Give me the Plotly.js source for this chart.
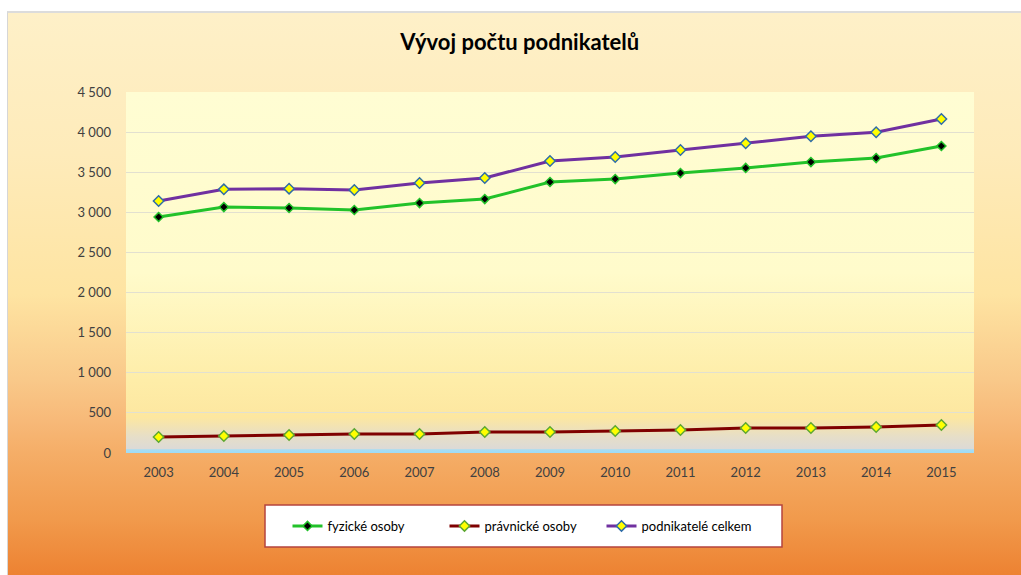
<!DOCTYPE html>
<html>
<head>
<meta charset="utf-8">
<script src="https://cdn.plot.ly/plotly-3.0.1.min.js"></script>
<style>
  html, body { margin:0; padding:0; background:#ffffff; }
  #frame { position:absolute; left:7px; top:11px; width:1020px; height:562px;
    border-left:1px solid #d6d6d6; border-top:2px solid #dcdcdc; border-bottom:2px solid #d0d0d0;
    background: linear-gradient(to bottom, #FEF0C8 0%, #FEEBBA 25%, #FEE4A2 50%, #F9C98A 65%, #F7B877 73%, #F5AE68 78%, #F19A4C 90%, #ED8232 100%); }
  #chart { position:absolute; left:0; top:0; width:1021px; height:575px; }
</style>
</head>
<body>
<div id="frame"></div>
<div id="chart"></div>
<script>
const years = ['2003','2004','2005','2006','2007','2008','2009','2010','2011','2012','2013','2014','2015'];
const fyzickeOsoby = [2942, 3066, 3054, 3029, 3116, 3166, 3378, 3415, 3490, 3553, 3627, 3677, 3827];
const pravnickeOsoby = [200, 212, 224, 237, 237, 262, 262, 274, 287, 312, 312, 324, 349];
const podnikateleCelkem = [3141, 3287, 3295, 3278, 3366, 3428, 3640, 3690, 3777, 3860, 3948, 3998, 4163];
const yTicks = [0, 500, 1000, 1500, 2000, 2500, 3000, 3500, 4000, 4500];

const plotGrad = '<svg xmlns="http://www.w3.org/2000/svg" width="100" height="361" preserveAspectRatio="none">' +
  '<defs><linearGradient id="g" x1="0" y1="0" x2="0" y2="1">' +
  '<stop offset="0" stop-color="#FFFDD3"/>' +
  '<stop offset="0.5" stop-color="#FFFBCB"/>' +
  '<stop offset="0.8" stop-color="#FEEDA8"/>' +
  '<stop offset="0.9" stop-color="#FDE7A0"/>' +
  '<stop offset="0.955" stop-color="#E6DEC8"/>' +
  '<stop offset="0.988" stop-color="#DCDAD6"/>' +
  '<stop offset="0.991" stop-color="#A8DDF3"/>' +
  '<stop offset="1" stop-color="#9EDCF6"/>' +
  '</linearGradient></defs><rect width="100" height="361" fill="url(#g)"/></svg>';

const font = 'Lato, "Open Sans", "Liberation Sans", sans-serif';

const traces = [
  { x: years, y: fyzickeOsoby, name: 'fyzické osoby', type: 'scatter', mode: 'lines+markers',
    line: { color: '#22C22A', width: 3 },
    marker: { symbol: 'diamond', size: 7, color: '#000000', line: { color: '#22C22A', width: 1.5 } } },
  { x: years, y: pravnickeOsoby, name: 'právnické osoby', type: 'scatter', mode: 'lines+markers',
    line: { color: '#7F0000', width: 3 },
    marker: { symbol: 'diamond', size: 8, color: '#FFFF00', line: { color: '#5EA832', width: 1.5 } } },
  { x: years, y: podnikateleCelkem, name: 'podnikatelé celkem', type: 'scatter', mode: 'lines+markers',
    line: { color: '#7030A0', width: 3 },
    marker: { symbol: 'diamond', size: 8, color: '#FFFF00', line: { color: '#2F6DA8', width: 1.5 } } }
];

const layout = {
  width: 1021, height: 575,
  margin: { l: 126, r: 47, t: 92, b: 122, pad: 0, autoexpand: false },
  paper_bgcolor: 'rgba(0,0,0,0)',
  plot_bgcolor: 'rgba(0,0,0,0)',
  separators: ', ',
  font: { family: font, size: 13, color: '#404040' },
  title: { text: '<b>Vývoj počtu podnikatelů</b>', font: { family: font, size: 22, color: '#000000' },
    x: 0.509, xref: 'container', xanchor: 'center', y: 1 - 42/575, yref: 'container', yanchor: 'middle' },
  xaxis: { type: 'category', range: [-0.5, 12.5], showgrid: false, zeroline: false, showline: false, ticks: '',
    tickangle: 0, automargin: false,
    ticklabelstandoff: 10, tickfont: { family: font, size: 13, color: '#404040' }, fixedrange: true },
  yaxis: { range: [0, 4500], tickvals: yTicks, tickformat: ',d', showgrid: true, gridcolor: '#E2E0D0', gridwidth: 1,
    zeroline: false, showline: false, ticks: '', ticklabelstandoff: 14, automargin: false,
    tickfont: { family: font, size: 13, color: '#404040' }, fixedrange: true },
  images: [{ source: 'data:image/svg+xml;charset=utf-8,' + encodeURIComponent(plotGrad),
    xref: 'paper', yref: 'paper', x: 0, y: 1, sizex: 1, sizey: 1, sizing: 'stretch',
    xanchor: 'left', yanchor: 'top', layer: 'below' }],
  shapes: [{ type: 'rect', xref: 'paper', yref: 'paper', x0: 139/848, x1: 656/848, y0: -94/361, y1: -52/361,
    fillcolor: '#FFFFFF', line: { color: '#B5443E', width: 1.5 }, layer: 'below' }],
  showlegend: true,
  legend: { orientation: 'h', x: 397/848, xref: 'paper', xanchor: 'center', y: -73/361, yref: 'paper', yanchor: 'middle',
    entrywidth: 112, entrywidthmode: 'pixels',
    bgcolor: 'rgba(0,0,0,0)', borderwidth: 0, font: { family: font, size: 13, color: '#000000' } },
  hovermode: false
};

Plotly.newPlot('chart', traces, layout, { displayModeBar: false, staticPlot: true });
</script>
</body>
</html>
